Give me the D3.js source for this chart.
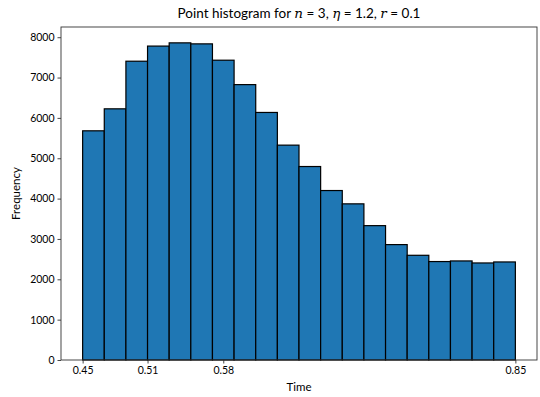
<!DOCTYPE html>
<html>
<head>
<meta charset="utf-8">
<script src="https://cdn.jsdelivr.net/npm/d3@7"></script>
<style>
  body { margin: 0; background: #fff; }
  svg text { font-family: Lato, "DejaVu Sans", sans-serif; fill: #000; }
</style>
</head>
<body>
<div id="chart"></div>
<script>
// histogram bins, 0.02 wide from 0.45 to 0.85
const binStarts = [0.45, 0.47, 0.49, 0.51, 0.53, 0.55, 0.57, 0.59, 0.61, 0.63,
                   0.65, 0.67, 0.69, 0.71, 0.73, 0.75, 0.77, 0.79, 0.81, 0.83];
const counts = [5680, 6225, 7405, 7780, 7860, 7835, 7430, 6825, 6135, 5325,
                4795, 4200, 3870, 3330, 2860, 2595, 2440, 2455, 2405, 2430];
const binWidth = 0.02;
const xTicks = [0.45, 0.51, 0.58, 0.85];
const yTicks = [0, 1000, 2000, 3000, 4000, 5000, 6000, 7000, 8000];

const w = 540, h = 397;
const margin = {left: 61, right: 3, top: 27, bottom: 37};

const svg = d3.select("#chart").append("svg")
    .attr("width", w)
    .attr("height", h);

const x = d3.scaleLinear()
    .domain([0.43, 0.87])
    .range([margin.left, w - margin.right]);

const y = d3.scaleLinear()
    .domain([0, d3.max(counts) * 1.05])
    .range([h - margin.bottom, margin.top]);

svg.selectAll("rect.bar")
    .data(counts)
    .enter()
    .append("rect")
    .attr("class", "bar")
    .attr("x", (d, i) => x(binStarts[i]))
    .attr("y", d => y(d))
    .attr("width", x(binWidth) - x(0))
    .attr("height", d => y(0) - y(d))
    .attr("fill", "#1f77b4")
    .attr("stroke", "#000")
    .attr("stroke-width", 1.2);

// frame
svg.append("rect")
    .attr("x", margin.left)
    .attr("y", margin.top)
    .attr("width", w - margin.right - margin.left)
    .attr("height", h - margin.bottom - margin.top)
    .attr("fill", "none")
    .attr("stroke", "#333")
    .attr("stroke-width", 0.9);

const xAxis = d3.axisBottom(x)
    .tickValues(xTicks)
    .tickFormat(d3.format(".2f"))
    .tickSize(3.5)
    .tickPadding(3);

const yAxis = d3.axisLeft(y)
    .tickValues(yTicks)
    .tickFormat(d3.format("d"))
    .tickSize(3.5)
    .tickPadding(3);

const gx = svg.append("g")
    .attr("transform", `translate(0, ${h - margin.bottom})`)
    .call(xAxis);
const gy = svg.append("g")
    .attr("transform", `translate(${margin.left}, 0)`)
    .call(yAxis);

[gx, gy].forEach(g => {
    g.select(".domain").remove();
    g.selectAll(".tick line").attr("stroke", "#333").attr("stroke-width", 0.9);
    g.selectAll(".tick text").attr("font-size", 10.5).attr("font-family", "Lato, 'DejaVu Sans', sans-serif");
});

svg.append("text")
    .attr("x", (margin.left + w - margin.right) / 2)
    .attr("y", 391)
    .attr("text-anchor", "middle")
    .attr("font-size", 11.5)
    .text("Time");

svg.append("text")
    .attr("transform", `translate(20, ${(margin.top + h - margin.bottom) / 2}) rotate(-90)`)
    .attr("text-anchor", "middle")
    .attr("font-size", 11.5)
    .text("Frequency");

const title = svg.append("text")
    .attr("x", (margin.left + w - margin.right) / 2)
    .attr("y", 18)
    .attr("text-anchor", "middle")
    .attr("font-size", 13.5);
title.append("tspan").text("Point histogram for ");
title.append("tspan").attr("font-style", "italic").attr("font-family", "'DejaVu Serif', serif").text("n");
title.append("tspan").text(" = 3, ");
title.append("tspan").attr("font-style", "italic").attr("font-family", "'DejaVu Serif', serif").text("η");
title.append("tspan").text(" = 1.2, ");
title.append("tspan").attr("font-style", "italic").attr("font-family", "'DejaVu Serif', serif").text("r");
title.append("tspan").text(" = 0.1");
</script>
</body>
</html>
